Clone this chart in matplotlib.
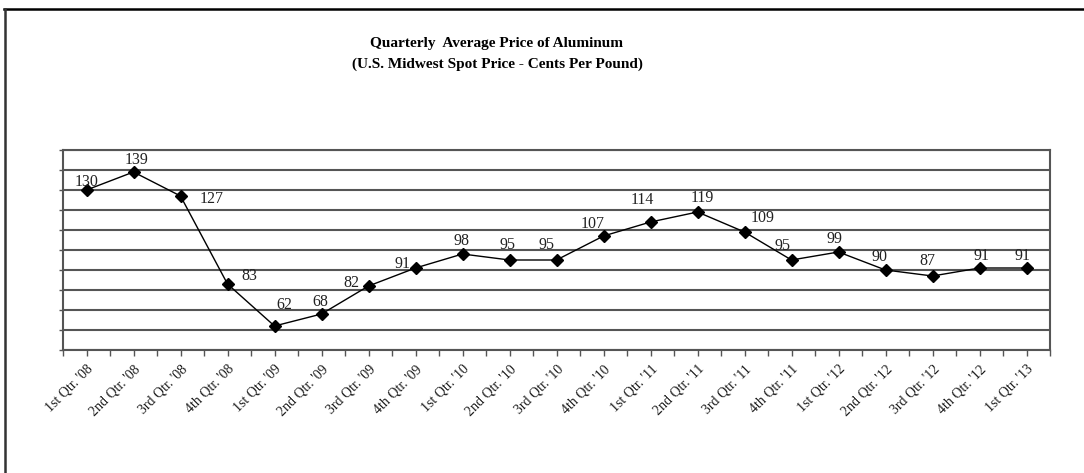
import matplotlib
matplotlib.use('Agg')
import matplotlib.pyplot as plt
from matplotlib.lines import Line2D
import numpy as np

quarters = ["1st Qtr. '08", "2nd Qtr. '08", "3rd Qtr. '08", "4th Qtr. '08",
            "1st Qtr. '09", "2nd Qtr. '09", "3rd Qtr. '09", "4th Qtr. '09",
            "1st Qtr. '10", "2nd Qtr. '10", "3rd Qtr. '10", "4th Qtr. '10",
            "1st Qtr. '11", "2nd Qtr. '11", "3rd Qtr. '11", "4th Qtr. '11",
            "1st Qtr. '12", "2nd Qtr. '12", "3rd Qtr. '12", "4th Qtr. '12",
            "1st Qtr. '13"]
prices = [130, 139, 127, 83, 62, 68, 82, 91, 98, 95, 95, 107,
          114, 119, 109, 95, 99, 90, 87, 91, 91]

# label offsets in pixels (dx, dy), as placed in the original
label_off = [(0, 8), (3, 12), (31, -3), (22, 8), (10, 21), (-1, 12), (-17, 3),
             (-13, 4), (-1, 13), (-2, 15), (-10, 15), (-11, 12), (-8, 22),
             (5, 14), (18, 14), (-9, 14), (-4, 13), (-6, 13), (-5, 15),
             (2, 12), (-4, 12)]

plt.rcParams['font.family'] = ['Liberation Serif', 'DejaVu Serif']

fig = plt.figure(figsize=(10.84, 4.73), dpi=100)
ax = fig.add_axes([63/1084, 123/473, 987/1084, 200/473])

x = np.arange(len(prices))
ax.plot(x, prices, color='black', lw=1.0, marker='D', ms=6.5,
        mfc='black', mec='black', zorder=3)

for i, v in enumerate(prices):
    ax.annotate(str(v), (x[i], v), xytext=label_off[i], textcoords='offset pixels',
                ha='center', va='center', fontsize=11.5, color='#222222')

ax.set_xlim(-0.5, len(prices) - 0.5)
ax.set_ylim(50, 150)
ax.set_yticks(np.arange(50, 151, 10))
ax.set_yticklabels([])
ax.yaxis.grid(True, color='#555555', lw=1.5)
ax.tick_params(axis='y', length=3, color='#555555', width=1)

ax.set_xticks(x)
ax.set_xticks(np.arange(-0.5, len(prices), 1), minor=True)
ax.set_xticklabels(quarters, rotation=45, ha='right', va='top',
                   rotation_mode='anchor', fontsize=10, color='#1a1a1a')
ax.tick_params(axis='x', which='both', length=4, width=1, color='#555555', pad=5)

for s in ax.spines.values():
    s.set_color('#555555')
    s.set_linewidth(1.5)

fig.text(497/1084, 1 - 44/473, 'Quarterly  Average Price of Aluminum',
         ha='center', va='center', fontsize=11, fontweight='bold')
fig.text(497/1084, 1 - 64/473, '(U.S. Midwest Spot Price - Cents Per Pound)',
         ha='center', va='center', fontsize=11, fontweight='bold')

# outer frame (top and left edges)
fig.add_artist(Line2D([4/1084, 1], [1 - 9.5/473, 1 - 9.5/473],
                      transform=fig.transFigure, color='black', lw=1.8))
fig.add_artist(Line2D([4.5/1084, 4.5/1084], [0, 1 - 9.5/473],
                      transform=fig.transFigure, color='#333333', lw=1.8))

fig.savefig('out.png', dpi=100)
